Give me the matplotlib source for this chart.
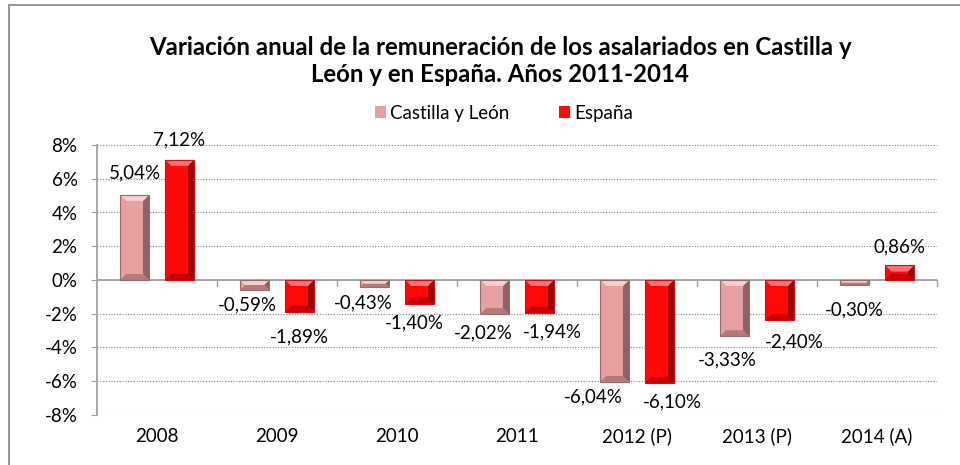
import matplotlib
matplotlib.use("Agg")
import matplotlib.pyplot as plt
import matplotlib.ticker as ticker
import numpy as np
from matplotlib.patches import Rectangle, Polygon

# Datos (%)
years = ["2008", "2009", "2010", "2011", "2012 (P)", "2013 (P)", "2014 (A)"]
castilla_leon = [5.04, -0.59, -0.43, -2.02, -6.04, -3.33, -0.30]
espana = [7.12, -1.89, -1.40, -1.94, -6.10, -2.40, 0.86]
series_names = ["Castilla y León", "España"]

# desplazamiento de las etiquetas (px) tal como aparecen en el original
cyl_label_dx = [0, -7, -11, -11, -21, -7, 0]
cyl_label_dy = [22, 15, 16, 19, 15, 24, 25]
esp_label_dx = [0, 0, -5, 13, 13, 15, 0]
esp_label_dy = [20, 25, 19, 19, 19, 21, 19]

plt.rcParams['font.family'] = ['Lato', 'DejaVu Sans']

styles = {
    'cyl': dict(face='#E6A0A0', light='#F7CDCD', dark='#B27A7A', side='#8E6262', edge='#9A6A6A'),
    'esp': dict(face='#FF0808', light='#FF7272', dark='#C40000', side='#A20000', edge='#D01010'),
}

fig = plt.figure(figsize=(9.6, 4.65), dpi=100)
ax = fig.add_axes([97 / 960, 1 - 415 / 465, 840 / 960, 270 / 465])

# marco exterior (recortado a la derecha y abajo como en el original)
fig.patches.append(Rectangle((9 / 960, -0.05), 1.2, 1 - 5 / 465 + 0.05, transform=fig.transFigure,
                             fill=False, edgecolor='#8C8C8C', linewidth=1.3))

x = np.arange(len(years))
width = 0.242
offset = 0.1875

ax.set_xlim(-0.5, len(years) - 0.5)
ax.set_ylim(-8, 8)


def bevel_bars(bars, st):
    # biselado tipo Excel sobre cada barra
    inv = ax.transData.inverted()
    for bar in bars:
        x0, y0 = bar.get_x(), bar.get_y()
        x1, y1 = x0 + bar.get_width(), y0 + bar.get_height()
        (px0, py0), (px1, py1) = ax.transData.transform([(x0, min(y0, y1)), (x1, max(y0, y1))])
        d = min(6, (py1 - py0) / 2, (px1 - px0) / 2)
        outer = [(px0, py0), (px1, py0), (px1, py1), (px0, py1)]
        inner = [(px0 + d, py0 + d), (px1 - d, py0 + d), (px1 - d, py1 - d), (px0 + d, py1 - d)]
        sides = [
            ([outer[0], outer[1], inner[1], inner[0]], st['dark']),   # abajo
            ([outer[1], outer[2], inner[2], inner[1]], st['side']),   # derecha
            ([outer[2], outer[3], inner[3], inner[2]], st['light']),  # arriba
            ([outer[3], outer[0], inner[0], inner[3]], st['face']),   # izquierda
        ]
        for pts, c in sides:
            ax.add_patch(Polygon(inv.transform(pts), closed=True, facecolor=c,
                                 edgecolor='none', zorder=3.5))
        ax.add_patch(Polygon(inv.transform(outer), closed=True, fill=False,
                             edgecolor=st['edge'], linewidth=0.8, zorder=3.6))


bars_cyl = ax.bar(x - offset, castilla_leon, width, color=styles['cyl']['face'],
                  edgecolor='none', label=series_names[0], zorder=3)
bars_esp = ax.bar(x + offset, espana, width, color=styles['esp']['face'],
                  edgecolor='none', label=series_names[1], zorder=3)
bevel_bars(bars_cyl, styles['cyl'])
bevel_bars(bars_esp, styles['esp'])

# etiquetas de datos
for bars, vals, dxs, dys in ((bars_cyl, castilla_leon, cyl_label_dx, cyl_label_dy),
                             (bars_esp, espana, esp_label_dx, esp_label_dy)):
    for bar, v, dx, dy in zip(bars, vals, dxs, dys):
        txt = f"{v:.2f}%".replace('.', ',')
        cx = bar.get_x() + bar.get_width() / 2
        ax.annotate(txt, xy=(cx, v), xytext=(dx, dy if v >= 0 else -dy),
                    textcoords='offset pixels', ha='center', va='center',
                    fontsize=13.5, zorder=4)

ax.set_yticks(np.arange(-8, 9, 2))
ax.yaxis.set_major_formatter(ticker.FuncFormatter(lambda v, p: f"{int(round(v))}%"))
ax.grid(axis='y', linestyle=(0, (1, 1.5)), color='#808080', linewidth=0.8, zorder=0)
ax.axhline(0, color='#A0A0A0', linewidth=1.3, zorder=2)

# categorías abajo, marcas en el eje cero
ax.set_xticks(x)
ax.set_xticklabels(years, fontsize=13.5)
ax.tick_params(axis='x', length=0, pad=9)
for b in np.arange(0.5, len(years), 1):
    ax.plot([b, b], [0, -0.33], color='#A0A0A0', linewidth=1.0, zorder=2, clip_on=False)

ax.tick_params(axis='y', labelsize=13.5, length=4, color='#A0A0A0', pad=10)
for s in ('top', 'right', 'bottom'):
    ax.spines[s].set_visible(False)
ax.spines['left'].set_color('#A0A0A0')
ax.spines['left'].set_linewidth(1.3)

fig.text(500 / 960, 1 - 61 / 465, "Variación anual de la remuneración de los asalariados en Castilla y\n"
         "León y en España. Años 2011-2014", ha='center', va='center',
         fontsize=17.3, fontweight='bold', linespacing=1.2)

fig.legend(handles=[bars_cyl, bars_esp], labels=series_names, loc='center',
           bbox_to_anchor=(504 / 960, 1 - 113 / 465), ncol=2, frameon=False, fontsize=13.5,
           handlelength=0.6, handleheight=0.6, handletextpad=0.25, columnspacing=2.6)

plt.savefig("out.png", dpi=100)
plt.close()
